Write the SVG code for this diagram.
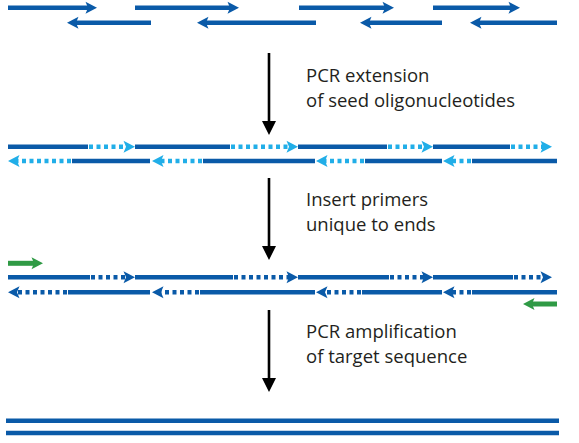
<svg xmlns="http://www.w3.org/2000/svg" width="579" height="443" viewBox="0 0 579 443">
<style>
.s{stroke:#0a5aa8;stroke-width:4.5;fill:none}
.d{stroke-width:4.5;fill:none;stroke-dasharray:4 3.5}
.lb{stroke:#21aee8}
.db{stroke:#0a5aa8}
.hd{fill:#0a5aa8}
.hl{fill:#21aee8}
.g{stroke:#2f9a45;stroke-width:5;fill:none}
.hg{fill:#2f9a45}
.t{font-family:"Open Sans","Noto Sans",sans-serif;font-size:18.5px;fill:#231f20}
.c{stroke:#000;stroke-width:2.6}
</style>
<defs>
<path id="hr" d="M0,0 L-11.5,-6 L-9,0 L-11.5,6 Z"/>
<path id="hlft" d="M0,0 L11.5,-6 L9,0 L11.5,6 Z"/>
</defs>

<g id="seeds">
<path class="s" d="M8,7.7H88 M135,7.7H230 M299,7.7H385 M433,7.7H511"/>
<use href="#hr" class="hd" x="97" y="7.7"/>
<use href="#hr" class="hd" x="239" y="7.7"/>
<use href="#hr" class="hd" x="394" y="7.7"/>
<use href="#hr" class="hd" x="520" y="7.7"/>
<path class="s" d="M76,22.7H151 M206,22.7H316 M369,22.7H442 M479,22.7H557"/>
<use href="#hlft" class="hd" x="67" y="22.7"/>
<use href="#hlft" class="hd" x="197" y="22.7"/>
<use href="#hlft" class="hd" x="360" y="22.7"/>
<use href="#hlft" class="hd" x="470" y="22.7"/>
</g>

<g id="extended">
<path class="s" d="M8,146.7H88 M135,146.7H230 M298,146.7H387 M433,146.7H510"/>
<path class="d lb" d="M89,146.7H126 M231,146.7H289 M388,146.7H424 M511,146.7H543"/>
<use href="#hr" class="hl" x="135" y="146.7"/>
<use href="#hr" class="hl" x="298" y="146.7"/>
<use href="#hr" class="hl" x="433" y="146.7"/>
<use href="#hr" class="hl" x="552" y="146.7"/>
<path class="s" d="M72,161H150 M203,161H315 M365,161H442 M472,161H557"/>
<path class="d lb" d="M71,161H17 M202,161H161 M364,161H325 M471,161H452"/>
<use href="#hlft" class="hl" x="8" y="161"/>
<use href="#hlft" class="hl" x="152" y="161"/>
<use href="#hlft" class="hl" x="316" y="161"/>
<use href="#hlft" class="hl" x="443" y="161"/>
</g>

<g id="primed">
<path class="g" d="M8,263.3H34"/>
<use href="#hr" class="hg" x="43" y="263.3"/>
<path class="s" d="M8,277.3H90 M135,277.3H233 M298,277.3H389 M433,277.3H513"/>
<path class="d db" d="M91,277.3H126 M234,277.3H289 M390,277.3H424 M514,277.3H543"/>
<use href="#hr" class="hd" x="135" y="277.3"/>
<use href="#hr" class="hd" x="298" y="277.3"/>
<use href="#hr" class="hd" x="433" y="277.3"/>
<use href="#hr" class="hd" x="552" y="277.3"/>
<path class="s" d="M68,292.3H150 M200,292.3H315 M362,292.3H442 M472,292.3H557"/>
<path class="d db" d="M67,292.3H17 M199,292.3H161 M361,292.3H325 M471,292.3H452"/>
<use href="#hlft" class="hd" x="8" y="292.3"/>
<use href="#hlft" class="hd" x="152" y="292.3"/>
<use href="#hlft" class="hd" x="316" y="292.3"/>
<use href="#hlft" class="hd" x="443" y="292.3"/>
<path class="g" d="M532,304H557"/>
<use href="#hlft" class="hg" x="523" y="304"/>
</g>

<g id="product">
<path class="s" d="M6,420.7H559 M6,433H559"/>
</g>

<g id="connectors">
<path class="c" d="M269,53V124 M269,178V249 M269,310V381"/>
<path d="M262,121L276,121L269,135Z M262,246L276,246L269,260Z M262,378L276,378L269,392Z" fill="#000"/>
</g>

<g id="label1">
<text class="t" x="306" y="82">PCR extension</text>
<text class="t" x="306" y="107">of seed oligonucleotides</text>
</g>
<g id="label2">
<text class="t" x="306" y="206">Insert primers</text>
<text class="t" x="306" y="231">unique to ends</text>
</g>
<g id="label3">
<text class="t" x="306" y="338">PCR amplification</text>
<text class="t" x="306" y="363">of target sequence</text>
</g>
</svg>
